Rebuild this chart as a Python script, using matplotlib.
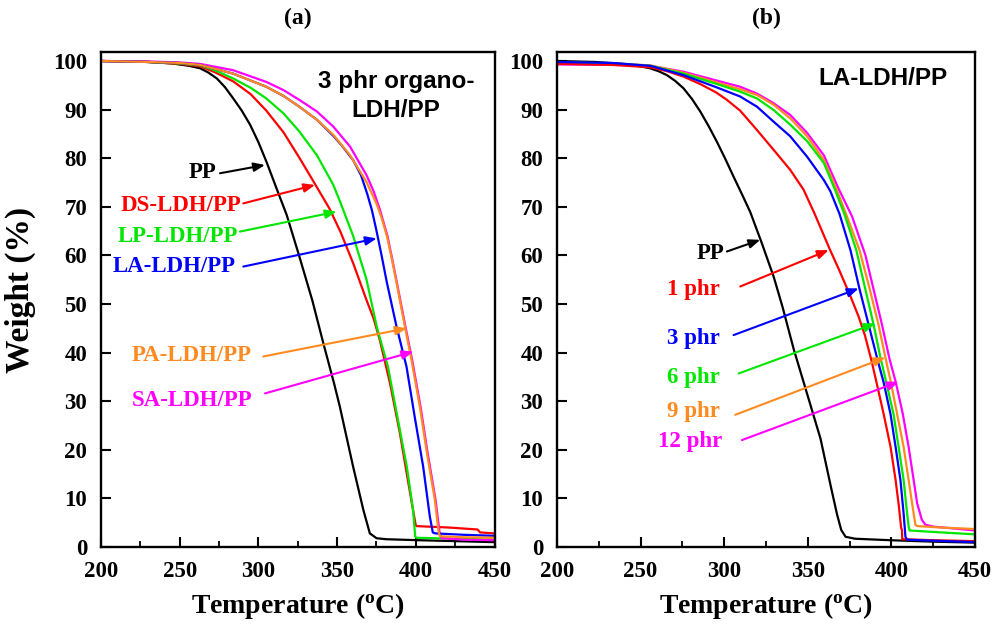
import matplotlib
matplotlib.use('Agg')
import matplotlib.pyplot as plt
from matplotlib.ticker import MultipleLocator

# ---------------- data (panel a: 3 phr organo-LDH/PP) ----------------
pp_a_T = [200, 230, 245, 256, 263, 268.3, 273.6, 278.8, 284, 289.4, 294.7, 300, 305.2, 311.5, 318, 326, 334.2, 341.2, 348.2, 351.8, 355.2, 360.2, 366.7, 370.8, 375.1, 381.3, 401.3, 426.3, 450]
pp_a_W = [100, 99.8, 99.5, 99.0, 98.5, 97.6, 96.4, 94.6, 92.3, 89.8, 86.9, 83.3, 79.2, 73.8, 68.3, 59.8, 50.8, 42, 33.5, 28.8, 23.8, 16.5, 7.6, 2.8, 1.8, 1.6, 1.4, 1.2, 1.0]

ds_a_T = [200, 230, 250, 263, 273, 284, 295, 305, 316, 326, 335.2, 345.2, 352.2, 360.2, 368.7, 373.2, 377.2, 383.6, 389.9, 395.3, 398.3, 399.9, 400.5, 421.3, 439.3, 440.8, 450]
ds_a_W = [100, 99.8, 99.4, 98.9, 97.6, 95.8, 93.2, 89.8, 85.3, 80.1, 75.1, 69.6, 64.8, 58.4, 50.8, 47.0, 42.5, 33.7, 23.4, 13.1, 7.5, 4.6, 4.3, 4.0, 3.6, 3.0, 2.8]

lp_a_T = [200, 230, 250, 263, 273, 284, 295, 305, 316, 326, 337.2, 347.6, 352.2, 360.2, 368.7, 375.2, 382.3, 388.3, 394.3, 398.3, 399.6, 400.3, 426.3, 450]
lp_a_W = [100, 99.8, 99.5, 99.1, 98.0, 96.4, 94.5, 92.3, 89.2, 85.5, 80.6, 74.5, 70.8, 64.0, 55.0, 45.3, 37.1, 26.8, 16.5, 7.5, 2.2, 1.9, 1.7, 1.5]

la_a_T = [200, 230, 250, 263, 284, 305, 316, 326, 337.2, 347.6, 353, 360.2, 365.2, 369.2, 372.2, 375.2, 378.5, 381.5, 387.8, 394.1, 399.3, 404.7, 408.9, 410.8, 412.3, 431.3, 450]
la_a_W = [100, 99.8, 99.6, 99.2, 97.4, 94.7, 92.8, 90.6, 87.9, 84.6, 82.6, 79.6, 76.5, 72.6, 69.2, 64.8, 59.6, 54.6, 45.3, 37.1, 26.8, 16.5, 6.3, 3.0, 2.8, 2.5, 2.3]

pa_a_T = [200, 230, 250, 263, 284, 305, 316, 326, 337.2, 347.6, 358.2, 368.7, 375.2, 378.2, 381.8, 384.8, 387.8, 393.1, 397.3, 402.6, 406.8, 412.1, 414.3, 415.3, 431.3, 450]
pa_a_W = [100, 99.8, 99.6, 99.2, 97.4, 94.7, 92.8, 90.6, 87.9, 84.8, 80.6, 75.1, 70.5, 67.8, 63.8, 59.2, 54.3, 45.3, 38.4, 28.8, 19.9, 9.7, 3.5, 2.2, 2.0, 1.9]

sa_a_T = [200, 230, 250, 263, 284, 305, 316, 326, 337.2, 347.6, 358.2, 368.7, 373.2, 377.2, 382, 385.1, 388.1, 393.5, 397.8, 403.1, 407.3, 412.6, 415.1, 416.3, 431.3, 450]
sa_a_W = [100, 99.9, 99.7, 99.4, 98.1, 95.7, 94.0, 92.0, 89.6, 86.5, 82.4, 76.5, 73.2, 69.4, 64, 59.1, 54.2, 45.2, 38.3, 28.7, 19.8, 9.6, 3.0, 1.8, 1.5, 1.4]

# ---------------- data (panel b: LA-LDH/PP loadings) ----------------
pp_b_T = [200, 222.7, 243.5, 255.7, 260.7, 265.7, 270.7, 275.6, 280.7, 285.7, 290.7, 295.6, 300.6, 305.6, 310.6, 315.6, 322.3, 329.6, 334.8, 341.5, 349.6, 357.6, 363.8, 367.5, 370.0, 372.6, 378.3, 399, 425, 450]
pp_b_W = [100, 99.8, 99.3, 98.5, 97.9, 97.1, 95.9, 94.4, 92.2, 89.6, 86.6, 83.4, 79.9, 76.2, 72.6, 68.9, 62.7, 55.6, 49.5, 40.8, 31.5, 22.3, 12.4, 6.7, 3.5, 2.1, 1.7, 1.4, 1.1, 0.9]

p1_b_T = [200, 233.1, 255.9, 265.8, 275.6, 286.0, 295.3, 301.6, 309.5, 319.6, 329.6, 339.5, 347.5, 353.9, 363.1, 369.0, 375.5, 380.4, 384.2, 388.0, 391.8, 395.4, 399.5, 402.5, 404.5, 405.8, 406.3, 406.5, 425, 450]
p1_b_W = [99.4, 99.2, 98.7, 97.9, 96.8, 95.2, 93.5, 92.0, 89.8, 85.8, 81.7, 77.6, 73.5, 68.7, 61.3, 56.8, 51.6, 47.4, 43.5, 38.5, 32.8, 27.3, 20.6, 13.8, 8.3, 4.0, 3.5, 1.6, 1.4, 1.2]

p3_b_T = [200, 233.1, 255.9, 275.6, 295.3, 309.5, 319.6, 329.6, 339.5, 349.6, 359.6, 363.5, 369.0, 375.5, 381.0, 386.4, 391.5, 395.4, 399.5, 402.5, 405.4, 407.3, 408.4, 409.4, 425, 450]
p3_b_W = [99.8, 99.6, 99.0, 97.1, 94.6, 92.7, 90.6, 87.5, 84.5, 80.3, 75.5, 73.2, 68.5, 61.1, 53.0, 45.7, 38.8, 33.8, 27.3, 20.6, 13.8, 6.9, 2.1, 1.5, 1.3, 1.0]

p6_b_T = [200, 233.1, 255.9, 275.6, 295.3, 309.5, 319.6, 329.6, 339.5, 349.6, 359.6, 366.3, 372.1, 379.0, 384.3, 389.4, 393.3, 396.9, 401.3, 404.3, 407.3, 409.4, 410.3, 410.9, 425, 450]
p6_b_W = [99.7, 99.5, 99.0, 97.4, 95.3, 93.7, 92.3, 89.9, 86.9, 83.5, 79.0, 73.5, 68.3, 61.1, 53.2, 45.7, 39.2, 33.9, 27.3, 20.6, 13.8, 6.9, 4.2, 3.4, 3.1, 2.6]

p9_b_T = [200, 233.1, 255.9, 275.6, 295.3, 309.5, 319.6, 329.6, 339.5, 349.6, 359.6, 367.3, 374.0, 380.9, 387.1, 392.3, 396.4, 399.5, 403.4, 407.3, 410.3, 413.3, 414.4, 415.6, 430, 450]
p9_b_W = [99.7, 99.5, 99.1, 97.6, 95.6, 94.2, 93.0, 91.0, 88.2, 84.5, 79.6, 73.5, 67.5, 61.1, 53.0, 45.7, 39.0, 34.2, 27.4, 20.6, 13.8, 6.9, 4.5, 4.3, 4.0, 3.7]

p12_b_T = [200, 233.1, 255.9, 275.6, 295.3, 309.5, 319.6, 329.6, 339.5, 349.6, 359.6, 368.3, 376.5, 384.5, 389.4, 394.4, 398.8, 402.7, 406.8, 410.3, 413.3, 415.4, 418.2, 420.3, 425, 450]
p12_b_W = [99.3, 99.2, 99.0, 97.8, 96.0, 94.7, 93.3, 91.3, 88.9, 85.2, 80.6, 73.8, 68.0, 60.0, 52.9, 45.7, 38.8, 33.8, 27.4, 20.6, 13.8, 9.0, 5.6, 4.6, 4.2, 3.4]

labels_a = ['PP', 'DS-LDH/PP', 'LP-LDH/PP', 'LA-LDH/PP', 'PA-LDH/PP', 'SA-LDH/PP']
labels_b = ['PP', '1 phr', '3 phr', '6 phr', '9 phr', '12 phr']
x_ticks = [200, 250, 300, 350, 400, 450]
y_ticks = [0, 10, 20, 30, 40, 50, 60, 70, 80, 90, 100]

# ---------------- style ----------------
RED, GREEN, BLUE = '#ff0000', '#00e600', '#0000ff'
ORANGE, MAGENTA, BLACK = '#ff8a1f', '#ff00ff', '#000000'

plt.rcParams['font.family'] = ['Liberation Serif', 'DejaVu Serif']
plt.rcParams['font.weight'] = 'bold'
plt.rcParams['mathtext.fontset'] = 'custom'
plt.rcParams['mathtext.rm'] = 'Liberation Serif:bold'
plt.rcParams['mathtext.it'] = 'Liberation Serif:bold'
plt.rcParams['mathtext.bf'] = 'Liberation Serif:bold'

fig = plt.figure(figsize=(9.93, 6.24), dpi=100)
ax_a = fig.add_axes([101/993, 77/624, 393.5/993, 495/624])
ax_b = fig.add_axes([557/993, 77/624, 418/993, 495/624])

LW = 1.6

def style(ax, title):
    ax.set_xlim(200, 450)
    ax.set_ylim(0, 101.85)
    ax.set_xticks(x_ticks)
    ax.set_yticks(y_ticks)
    ax.xaxis.set_minor_locator(MultipleLocator(25))
    ax.tick_params(axis='both', which='major', direction='in', length=7, width=1.5,
                   labelsize=16.5, top=False, right=False)
    ax.tick_params(axis='x', which='major', pad=10)
    ax.tick_params(axis='y', which='major', pad=10)
    ax.tick_params(axis='x', which='minor', direction='in', length=4, width=1.3, top=False)
    for s in ax.spines.values():
        s.set_linewidth(1.7)
    ax.set_xlabel('Temperature ($^{\\mathregular{o}}$C)', fontsize=20, fontweight='bold')
    ax.xaxis.set_label_coords(0.5, -0.088)
    ax.xaxis.label.set_va('top')
    ax.text(0.5, 1.0 + 34/495, title, transform=ax.transAxes, ha='center', va='center',
            fontsize=17, fontweight='bold')

style(ax_a, '(a)')
style(ax_b, '(b)')
ax_a.set_ylabel('Weight (%)', fontsize=24, fontweight='bold')
ax_a.yaxis.set_label_coords(-0.165, 0.52)

# panel a curves
ax_a.plot(pp_a_T, pp_a_W, color=BLACK, lw=LW)
ax_a.plot(ds_a_T, ds_a_W, color=RED, lw=LW)
ax_a.plot(lp_a_T, lp_a_W, color=GREEN, lw=LW)
ax_a.plot(sa_a_T, sa_a_W, color=MAGENTA, lw=LW)
ax_a.plot(la_a_T, la_a_W, color=BLUE, lw=LW)
ax_a.plot(pa_a_T, pa_a_W, color=ORANGE, lw=LW)

# panel b curves
ax_b.plot(pp_b_T, pp_b_W, color=BLACK, lw=LW)
ax_b.plot(p12_b_T, p12_b_W, color=MAGENTA, lw=LW)
ax_b.plot(p9_b_T, p9_b_W, color=ORANGE, lw=LW)
ax_b.plot(p6_b_T, p6_b_W, color=GREEN, lw=LW)
ax_b.plot(p1_b_T, p1_b_W, color=RED, lw=LW)
ax_b.plot(p3_b_T, p3_b_W, color=BLUE, lw=LW)

def arrow(ax, start, tip, color):
    ax.annotate('', xy=tip, xytext=start,
                arrowprops=dict(arrowstyle='-|>,head_length=0.55,head_width=0.22',
                                color=color, lw=1.5, mutation_scale=12,
                                shrinkA=0, shrinkB=0))

# panel a labels & arrows: (text x, text y, arrow start, arrow tip, color)
ann_a = [
    (273.5, 77.0, (275.6, 76.9), (304.2, 78.6), BLACK),
    (289.0, 70.3, (290.4, 70.7), (336.0, 74.5), RED),
    (287.0, 63.8, (288.3, 64.9), (349.7, 69.0), GREEN),
    (285.5, 57.8, (290.4, 57.7), (375.2, 63.5), BLUE),
    (296.0, 39.3, (303.1, 39.2), (394.2, 45.0), ORANGE),
    (296.5, 30.2, (304.2, 31.6), (398.4, 40.2), MAGENTA),
]
for lab, (tx, ty, st, tp, c) in zip(labels_a, ann_a):
    ax_a.text(tx, ty, lab, color=c, ha='right', va='center', fontsize=16.5, fontweight='bold')
    arrow(ax_a, st, tp, c)

ann_b = [
    (300.0, 60.3, (301.6, 60.8), (321.6, 63.2), BLACK),
    (297.6, 52.9, (309.6, 53.6), (362.5, 61.1), RED),
    (297.6, 43.0, (305.6, 43.6), (380.4, 53.2), BLUE),
    (297.6, 34.8, (308.6, 35.7), (390.4, 46.0), GREEN),
    (297.6, 27.8, (306.6, 27.2), (396.4, 39.0), ORANGE),
    (298.8, 21.8, (310.6, 22.0), (404.4, 34.0), MAGENTA),
]
for lab, (tx, ty, st, tp, c) in zip(labels_b, ann_b):
    ax_b.text(tx, ty, lab, color=c, ha='right', va='center', fontsize=16.5, fontweight='bold')
    arrow(ax_b, st, tp, c)

ax_a.text(387.4, 92.8, '3 phr organo-\nLDH/PP', ha='center', va='center', fontsize=17.5,
          family=['Liberation Sans', 'DejaVu Sans'], fontweight='bold', linespacing=1.3)
ax_b.text(395.2, 96.3, 'LA-LDH/PP', ha='center', va='center', fontsize=17.5,
          family=['Liberation Sans', 'DejaVu Sans'], fontweight='bold')

fig.savefig('out.png', dpi=100)
